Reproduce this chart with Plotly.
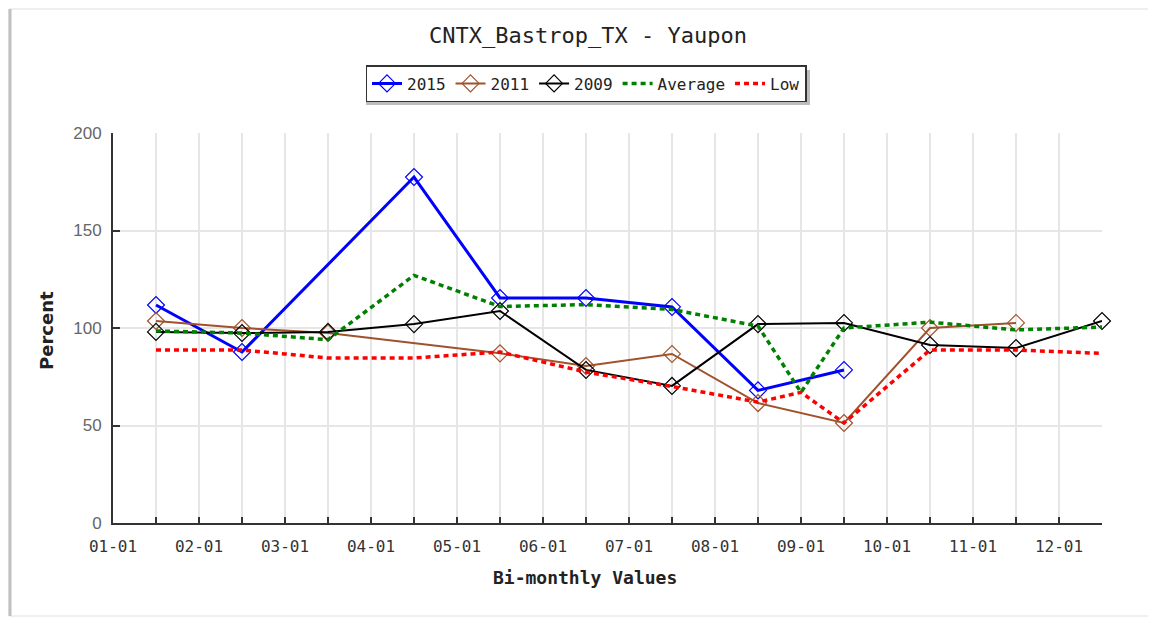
import plotly.graph_objects as go

# ---- data ----
periods = ["01-01", "01-15", "02-01", "02-15", "03-01", "03-15", "04-01", "04-15",
           "05-01", "05-15", "06-01", "06-15", "07-01", "07-15", "08-01", "08-15",
           "09-01", "09-15", "10-01", "10-15", "11-01", "11-15", "12-01", "12-15"]
tick_labels = [p if p.endswith("-01") else "" for p in periods]

mid_dates = ["01-15", "02-15", "03-15", "04-15", "05-15", "06-15",
             "07-15", "08-15", "09-15", "10-15", "11-15", "12-15"]

y2015 = [111.8, 87.7, None, 177.4, 115.4, 115.4, 110.8, 68.0, 78.5, None, None, None]
y2011 = [103.6, 100.0, 97.4, None, 87.0, 80.5, 86.7, 61.5, 51.3, 100.0, 102.6, None]
y2009 = [98.0, 97.4, 98.0, 102.0, 108.7, 78.5, 70.3, 102.0, 102.6, 91.3, 89.7, 103.6]

avg_dates = ["01-15", "02-15", "03-15", "04-15", "05-15", "06-15", "07-15",
             "08-15", "09-01", "09-15", "10-15", "11-15", "12-15"]
avg_vals = [98.5, 97.4, 94.0, 127.0, 111.0, 112.0, 109.5, 101.0, 67.0, 100.0, 103.0, 99.0, 100.5]

low_dates = ["01-15", "02-15", "03-01", "03-15", "04-15", "05-15", "06-15", "07-15",
             "08-15", "09-01", "09-15", "10-15", "11-15", "12-15"]
low_vals = [88.7, 88.7, 86.7, 84.6, 84.6, 87.7, 77.4, 70.0, 62.0, 67.0, 51.3, 88.7, 88.7, 87.0]

# ---- layout geometry (page pixels; the page body adds an 8px offset) ----
OFF = 8
W, H = 1156 - OFF, 623 - OFF
L, R, T, B = 113, 1102, 133, 523   # plot area in page pixels


def px_x(p):
    return (p - L) / (R - L)


def px_y(p):
    return (B - p) / (B - T)


def cx(p):
    return (p - OFF) / W


def cy(p):
    return 1 - (p - OFF) / H


mono = "DejaVu Sans Mono"
fig = go.Figure()


def yr_trace(name, vals, color, width):
    fig.add_trace(go.Scatter(
        x=mid_dates, y=vals, name=name, mode="lines+markers",
        connectgaps=True, cliponaxis=False,
        line=dict(color=color, width=width),
        marker=dict(symbol="diamond-open", size=13, color=color, line=dict(width=1.2, color=color)),
    ))


yr_trace("2015", y2015, "#0000ff", 3)
yr_trace("2011", y2011, "#a0522d", 2)
yr_trace("2009", y2009, "#000000", 2)

fig.add_trace(go.Scatter(x=avg_dates, y=avg_vals, name="Average", mode="lines",
                         cliponaxis=False,
                         line=dict(color="#008000", width=3.5, dash="5px,4px")))
fig.add_trace(go.Scatter(x=low_dates, y=low_vals, name="Low", mode="lines",
                         cliponaxis=False,
                         line=dict(color="#ff0000", width=3.5, dash="5px,4px")))

shapes = [
    # outer frame
    dict(type="rect", xref="paper", yref="paper", x0=px_x(9), x1=px_x(1149), y0=px_y(616), y1=px_y(9),
         line=dict(color="#e0e0e0", width=1), layer="below"),
    dict(type="line", xref="paper", yref="paper", x0=px_x(10), x1=px_x(10), y0=px_y(616), y1=px_y(9),
         line=dict(color="#c0c0c0", width=3), layer="below"),
    # legend shadow
    dict(type="rect", xref="paper", yref="paper", x0=px_x(366), x1=px_x(810), y0=px_y(105), y1=px_y(70),
         line=dict(width=0), fillcolor="#bdbdbd", layer="below"),
]

fig.update_layout(
    width=W, height=H,
    margin=dict(l=L - OFF, r=1156 - R, t=T - OFF, b=623 - B),
    paper_bgcolor="white", plot_bgcolor="white",
    title=dict(text="CNTX_Bastrop_TX - Yaupon", xref="container", x=cx(588), xanchor="center",
               yref="container", y=cy(35), yanchor="middle",
               font=dict(family=mono, size=22, color="#222")),
    showlegend=True,
    legend=dict(orientation="h", xref="container", yref="container",
                x=cx(586), xanchor="center", y=cy(65), yanchor="top",
                bgcolor="white", bordercolor="#333", borderwidth=1.5,
                font=dict(family=mono, size=16, color="#222"),
                itemwidth=30),
    xaxis=dict(type="category", categoryorder="array", categoryarray=periods,
               range=[0, len(periods) - 1],
               tickmode="array", tickvals=periods, ticktext=tick_labels,
               ticks="inside", ticklen=6, tickcolor="#333", tickwidth=1.5,
               showline=True, linecolor="#333", linewidth=2,
               showgrid=True, gridcolor="#e6e6e6", gridwidth=1.5,
               tickfont=dict(family=mono, size=16, color="#333"), ticklabelstandoff=8,
               zeroline=False),
    yaxis=dict(range=[0, 200], tickvals=[0, 50, 100, 150, 200],
               ticks="inside", ticklen=7, tickcolor="#333", tickwidth=1.5,
               showline=True, linecolor="#333", linewidth=2,
               showgrid=True, gridcolor="#e6e6e6", gridwidth=1.5,
               tickfont=dict(family="Liberation Sans", size=17, color="#666"), ticklabelstandoff=6,
               zeroline=False),
    shapes=shapes,
    annotations=[
        dict(text="<b>Bi-monthly Values</b>", xref="paper", yref="paper",
             x=px_x(585), y=px_y(577), xanchor="center", yanchor="middle", showarrow=False,
             font=dict(family=mono, size=18, color="#222")),
        dict(text="<b>Percent</b>", xref="paper", yref="paper", textangle=-90,
             x=px_x(46), y=px_y(331), xanchor="center", yanchor="middle", showarrow=False,
             font=dict(family="DejaVu Sans", size=18, color="#222")),
    ],
)

fig.write_html("out.html")
